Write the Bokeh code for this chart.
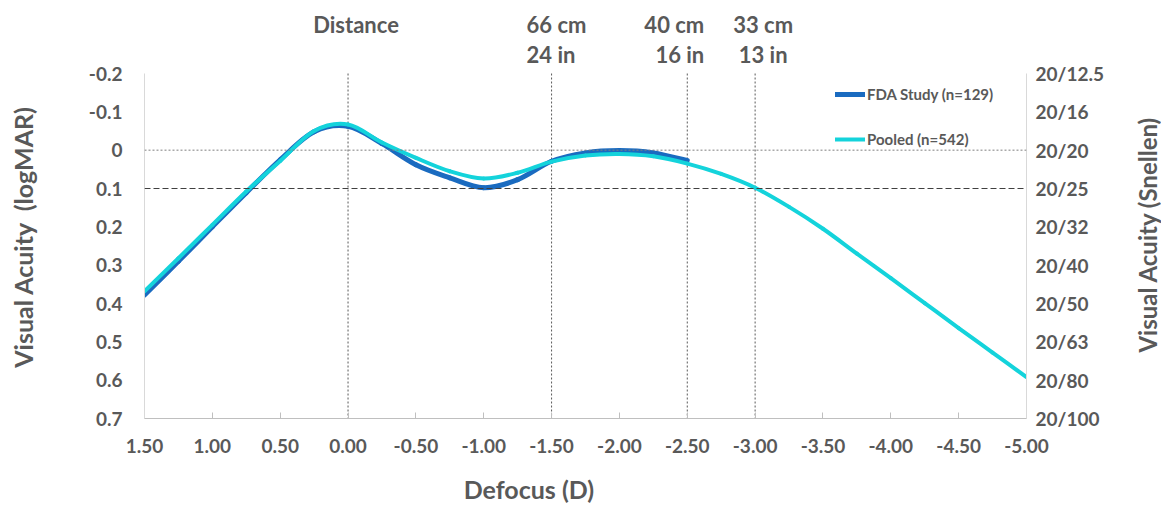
import math
from bokeh.plotting import figure
from bokeh.layouts import row, column
from bokeh.models import (Range1d, LinearAxis, FixedTicker, Span,
                          Legend, LegendItem)
from bokeh.core.properties import value
from bokeh.embed import file_html
from bokeh.resources import INLINE

# ---------------- data ----------------
defocus_fda = [1.5, 1.25, 1.0, 0.75, 0.5, 0.25, 0.0, -0.25, -0.5, -0.75,
               -1.0, -1.25, -1.5, -1.75, -2.0, -2.25, -2.5]
va_fda = [0.378, 0.290, 0.200, 0.111, 0.025, -0.048, -0.062, -0.017, 0.038,
          0.072, 0.098, 0.077, 0.029, 0.007, 0.001, 0.007, 0.027]

defocus_pooled = [1.5, 1.25, 1.0, 0.75, 0.5, 0.25, 0.0, -0.25, -0.5, -0.75,
                  -1.0, -1.25, -1.5, -1.75, -2.0, -2.25, -2.5, -2.75, -3.0,
                  -3.25, -3.5, -3.75, -4.0, -4.25, -4.5, -4.75, -5.0]
va_pooled = [0.368, 0.282, 0.195, 0.108, 0.028, -0.050, -0.067, -0.020, 0.020,
             0.055, 0.074, 0.059, 0.030, 0.014, 0.010, 0.016, 0.035, 0.062,
             0.098, 0.148, 0.205, 0.270, 0.334, 0.399, 0.464, 0.528, 0.592]

series_names = ["FDA Study (n=129)", "Pooled (n=542)"]

defocus_ticks = [1.5, 1.0, 0.5, 0.0, -0.5, -1.0, -1.5, -2.0, -2.5, -3.0,
                 -3.5, -4.0, -4.5, -5.0]
defocus_labels = ["1.50", "1.00", "0.50", "0.00", "-0.50", "-1.00", "-1.50",
                  "-2.00", "-2.50", "-3.00", "-3.50", "-4.00", "-4.50", "-5.00"]
logmar_ticks = [-0.2, -0.1, 0.0, 0.1, 0.2, 0.3, 0.4, 0.5, 0.6, 0.7]
logmar_labels = ["-0.2", "-0.1", "0", "0.1", "0.2", "0.3", "0.4", "0.5",
                 "0.6", "0.7"]
snellen_labels = ["20/12.5", "20/16", "20/20", "20/25", "20/32", "20/40",
                  "20/50", "20/63", "20/80", "20/100"]

distance_defocus = [0.0, -1.5, -2.5, -3.0]
distance_line1 = ["Distance", "66 cm", "40 cm", "33 cm"]
distance_line2 = ["", "24 in", "16 in", "13 in"]
ref_logmar_dotted = 0.0
ref_logmar_dashed = 0.1

x_title = "Defocus (D)"
y_title_left = "Visual Acuity\u00a0 (logMAR)"
y_title_right = "Visual Acuity (Snellen)"

# ---------------- layout / style ----------------
FONT = "Lato"
TXT = "#595959"
AX = "#BFBFBF"
BLUE = "#1A6BC0"
CYAN = "#14D3DB"
H = 505
LEFT_W, RIGHT_W = 45, 40
MID_W = 1161 - LEFT_W - RIGHT_W
BOTTOM_H = 36                              # strip holding the x title
MAIN_H = H - BOTTOM_H
BL, BR = 144 - LEFT_W, 135 - RIGHT_W      # plot area from x=144 to x=1026
AREA_TOP = 73                              # y of logMAR -0.2 (page px)
AREA_BOTTOM = 418                          # y of logMAR 0.7 (page px)
MAIN_BOTTOM = MAIN_H - AREA_BOTTOM
Y_LO, Y_HI = logmar_ticks[0], logmar_ticks[-1]
PX_PER_UNIT = (AREA_BOTTOM - AREA_TOP) / (Y_HI - Y_LO)
Y_TOP = Y_LO - AREA_TOP / PX_PER_UNIT      # frame reaches the page top


def page_y_to_data(py):
    return Y_LO - (AREA_TOP - py) / PX_PER_UNIT


def smooth_bezier(xs, ys):
    """Excel-style smoothed line: cubic Bezier segments through the points."""
    n = len(xs)
    out = {k: [] for k in ("x0", "y0", "x1", "y1", "cx0", "cy0", "cx1", "cy1")}
    for i in range(n - 1):
        xm, ym = (xs[i - 1], ys[i - 1]) if i > 0 else (xs[i], ys[i])
        xp, yp = (xs[i + 2], ys[i + 2]) if i + 2 < n else (xs[i + 1], ys[i + 1])
        out["x0"].append(xs[i]); out["y0"].append(ys[i])
        out["x1"].append(xs[i + 1]); out["y1"].append(ys[i + 1])
        out["cx0"].append(xs[i] + (xs[i + 1] - xm) / 6.0)
        out["cy0"].append(ys[i] + (ys[i + 1] - ym) / 6.0)
        out["cx1"].append(xs[i + 1] - (xp - xs[i]) / 6.0)
        out["cy1"].append(ys[i + 1] - (yp - ys[i]) / 6.0)
    return out


def blank(width, height):
    f = figure(width=width, height=height, output_backend="svg",
               toolbar_location=None, x_range=Range1d(0, width),
               y_range=Range1d(0, height),
               x_axis_location=None, y_axis_location=None,
               min_border_left=0, min_border_right=0,
               min_border_top=0, min_border_bottom=0)
    f.outline_line_color = None
    f.grid.visible = False
    return f


def title_text(fig, x, y, text, size, angle=0.0):
    fig.text(x=[x], y=[y], text=[text], angle=angle,
             text_align="center", text_baseline="middle",
             text_font=value(FONT), text_font_style="bold",
             text_font_size=size, text_color=TXT)


# ---------------- strips holding the axis titles ----------------
left_strip = blank(LEFT_W, H)
title_text(left_strip, 22.5, H - 236.5, y_title_left, "25px", math.pi / 2)

right_strip = blank(RIGHT_W, H)
title_text(right_strip, 1147 - (1161 - RIGHT_W), H - 234, y_title_right,
           "24px", math.pi / 2)

bottom_strip = blank(MID_W, BOTTOM_H)
title_text(bottom_strip, 514 - LEFT_W, H - 488.5, x_title, "25px")

# ---------------- main chart ----------------
p = figure(width=MID_W, height=MAIN_H, output_backend="svg",
           toolbar_location=None,
           x_range=Range1d(1.5, -5.0), y_range=Range1d(Y_HI, Y_TOP),
           min_border_left=BL, min_border_right=BR, min_border_top=0,
           min_border_bottom=MAIN_BOTTOM)
p.outline_line_color = None
p.grid.visible = False

# x axis
xa = p.xaxis[0]
xa.ticker = FixedTicker(ticks=defocus_ticks)
xa.major_label_overrides = {t: l for t, l in zip(defocus_ticks, defocus_labels)}
xa.axis_line_color = AX
xa.major_tick_line_color = AX
xa.major_tick_in = 6
xa.major_tick_out = 0
xa.minor_tick_line_color = None
xa.major_label_standoff = 20
xa.major_label_text_font = FONT
xa.major_label_text_font_style = "bold"
xa.major_label_text_font_size = "19px"
xa.major_label_text_color = TXT

# left y axis (logMAR)
ya = p.yaxis[0]
ya.bounds = (Y_LO, Y_HI)
ya.ticker = FixedTicker(ticks=logmar_ticks)
ya.major_label_overrides = {t: l for t, l in zip(logmar_ticks, logmar_labels)}
ya.axis_line_color = "#D9D9D9"
ya.major_tick_line_color = None
ya.major_tick_in = 0
ya.major_tick_out = 0
ya.minor_tick_line_color = None
ya.major_label_standoff = 22
ya.major_label_text_font = FONT
ya.major_label_text_font_style = "bold"
ya.major_label_text_font_size = "19px"
ya.major_label_text_color = TXT

# right y axis (Snellen)
ra = LinearAxis(ticker=FixedTicker(ticks=logmar_ticks), bounds=(Y_LO, Y_HI))
ra.major_label_overrides = {t: l for t, l in zip(logmar_ticks, snellen_labels)}
ra.axis_line_color = "#D9D9D9"
ra.major_tick_line_color = None
ra.major_tick_in = 0
ra.major_tick_out = 0
ra.minor_tick_line_color = None
ra.major_label_standoff = 9
ra.major_label_text_font = FONT
ra.major_label_text_font_style = "bold"
ra.major_label_text_font_size = "19px"
ra.major_label_text_color = TXT
p.add_layout(ra, "right")

# reference lines
p.add_layout(Span(location=ref_logmar_dotted, dimension="width",
                  line_color="#7F7F7F", line_width=1, line_dash="2 2"))
p.add_layout(Span(location=ref_logmar_dashed, dimension="width",
                  line_color="#404040", line_width=1, line_dash="6 3"))
p.segment(x0=distance_defocus, x1=distance_defocus,
          y0=[Y_LO] * len(distance_defocus), y1=[Y_HI] * len(distance_defocus),
          line_color="#595959", line_width=1, line_dash="2 2")

# series (smoothed like the original)
b_fda = smooth_bezier(defocus_fda, va_fda)
b_pool = smooth_bezier(defocus_pooled, va_pooled)
r_fda = p.bezier(line_color=BLUE, line_width=5, line_cap="round", **b_fda)
r_pool = p.bezier(line_color=CYAN, line_width=4, line_cap="round", **b_pool)

# distance annotations above the plot area
aligns = ["center", "left", "right", "center"]
xoffs = [8, -25, 17, 8]
for xd, l1, l2, al, xo in zip(distance_defocus, distance_line1, distance_line2,
                              aligns, xoffs):
    for txt, py in ((l1, 23.5), (l2, 53.5)):
        if txt:
            p.text(x=[xd], y=[page_y_to_data(py)], text=[txt], x_offset=xo,
                   text_align=al, text_baseline="middle",
                   text_font=value(FONT), text_font_style="bold",
                   text_font_size="22px", text_color=TXT)

frame_h = AREA_BOTTOM
legend = Legend(items=[LegendItem(label=series_names[0], renderers=[r_fda]),
                       LegendItem(label=series_names[1], renderers=[r_pool])],
                location=(691, frame_h - 84 - 65), orientation="vertical",
                glyph_width=30, glyph_height=20, label_height=20,
                spacing=25, padding=0, margin=0, label_standoff=2,
                border_line_color=None, background_fill_alpha=0,
                label_text_font=FONT, label_text_font_style="bold",
                label_text_font_size="15px", label_text_color=TXT)
p.add_layout(legend)

layout = row(left_strip, column(p, bottom_strip, spacing=0), right_strip,
             spacing=0)
open("out.html", "w").write(file_html(layout, INLINE))
